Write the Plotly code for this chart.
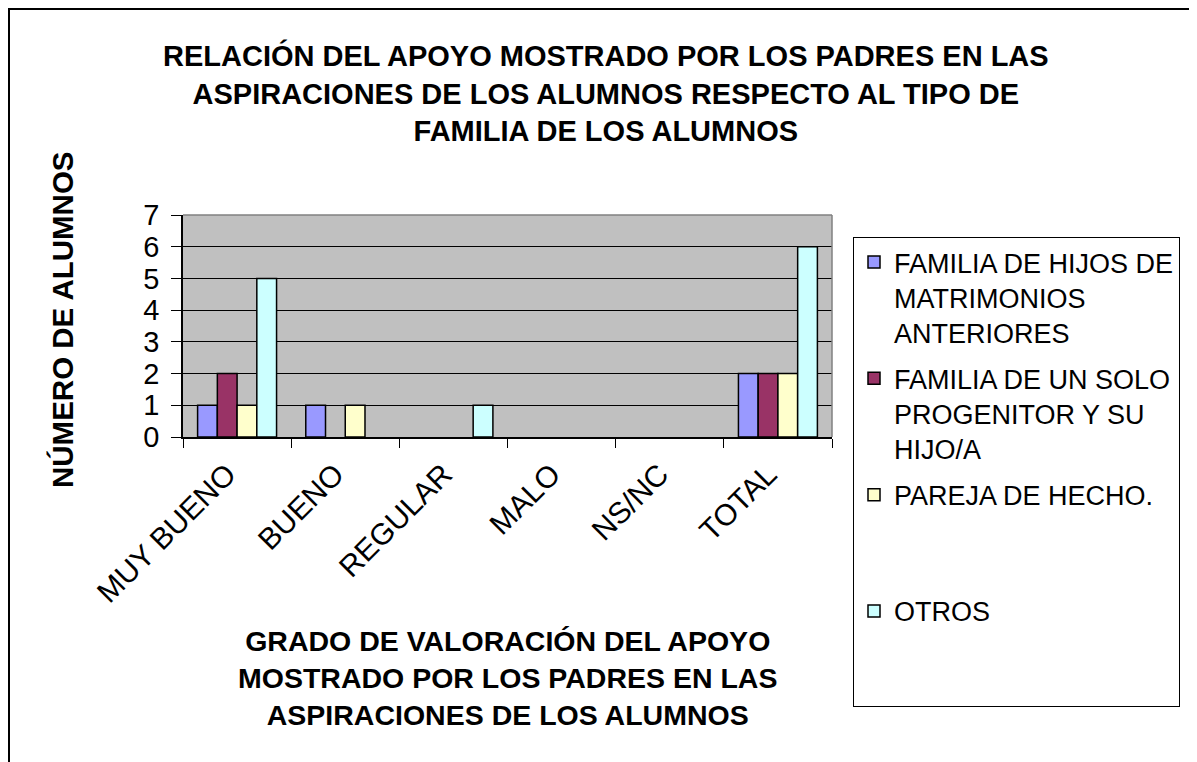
import plotly.graph_objects as go

categories = ["MUY BUENO", "BUENO", "REGULAR", "MALO", "NS/NC", "TOTAL"]
series_names = [
    "FAMILIA DE HIJOS DE<br>MATRIMONIOS<br>ANTERIORES",
    "FAMILIA DE UN SOLO<br>PROGENITOR Y SU<br>HIJO/A",
    "PAREJA DE HECHO.<br> <br> ",
    "OTROS<br> <br> ",
]
hijos_matrimonios = [1, 1, 0, 0, 0, 2]
solo_progenitor = [2, 0, 0, 0, 0, 2]
pareja_hecho = [1, 1, 0, 0, 0, 2]
otros = [5, 0, 1, 0, 0, 6]
series_values = [hijos_matrimonios, solo_progenitor, pareja_hecho, otros]
colors = ["#9999FF", "#993366", "#FFFFCC", "#CCFFFF"]
y_ticks = [0, 1, 2, 3, 4, 5, 6, 7]

title_text = ("RELACIÓN DEL APOYO MOSTRADO POR LOS PADRES EN LAS<br>"
              "ASPIRACIONES DE LOS ALUMNOS RESPECTO AL TIPO DE<br>"
              "FAMILIA DE LOS ALUMNOS")
xtitle_text = ("GRADO DE VALORACIÓN DEL APOYO<br>"
               "MOSTRADO POR LOS PADRES EN LAS<br>"
               "ASPIRACIONES DE LOS ALUMNOS")
ytitle_text = "NÚMERO DE ALUMNOS"

FONT = "Liberation Sans, Arial, sans-serif"
W, H = 1197, 762
OFF = 8  # page body margin
L, R, T, B = 183 - OFF, 832 - OFF, 215 - OFF, 437 - OFF
pw, ph = R - L, B - T

def px(x):
    return (x - OFF - L) / pw

def py(y):
    return (B - (y - OFF)) / ph

fig = go.Figure()
for i, (name, vals, col) in enumerate(zip(series_names, series_values, colors)):
    fig.add_trace(go.Bar(
        x=categories, y=vals, name=name, legendgroup=f"g{i}",
        marker=dict(color=col,
                    line=dict(color="black",
                              width=[1.5 if v else 0 for v in vals])),
    ))

fig.update_layout(
    width=W, height=H,
    margin=dict(l=L, r=W - R, t=T, b=H - B, pad=0),
    paper_bgcolor="white",
    plot_bgcolor="#C0C0C0",
    barmode="group", bargap=0.27, bargroupgap=0,
    font=dict(family=FONT, color="black"),
    showlegend=True,
    legend=dict(
        x=px(853), y=py(237), xanchor="left", yanchor="top",
        bordercolor="black", borderwidth=1, bgcolor="white",
        font=dict(size=27, family=FONT, color="black"),
        valign="top", traceorder="grouped", tracegroupgap=8,
        entrywidth=302, entrywidthmode="pixels",
        maxheight=700,
    ),
    xaxis=dict(
        type="category", tickson="boundaries", ticks="outside", ticklen=9,
        tickcolor="black", showline=True, linecolor="black", linewidth=1.5,
        tickangle=-45, tickfont=dict(size=30, family=FONT, color="black"),
        ticklabelshift=-10, ticklabelstandoff=6,
        showgrid=False,
    ),
    yaxis=dict(
        range=[0, 7], tickvals=y_ticks, ticks="outside", ticklen=10,
        tickcolor="black", showline=True, linecolor="black", linewidth=1.5,
        showgrid=True, gridcolor="black", gridwidth=1,
        tickfont=dict(size=29, family=FONT, color="black"),
        ticklabelstandoff=6,
        zeroline=False,
    ),
)

fig.add_annotation(text=title_text, xref="paper", yref="paper",
                   x=px(606), y=py(93), xanchor="center", yanchor="middle",
                   showarrow=False, font=dict(size=29, family=FONT, color="black"))
fig.add_annotation(text=xtitle_text, xref="paper", yref="paper",
                   x=px(507), y=py(678), xanchor="center", yanchor="middle",
                   showarrow=False, font=dict(size=28.5, family=FONT, color="black"))
fig.add_annotation(text=ytitle_text, xref="paper", yref="paper",
                   x=px(62), y=py(320), xanchor="center", yanchor="middle",
                   textangle=-90, showarrow=False,
                   font=dict(size=29.5, family=FONT, color="black"))

for a in fig.layout.annotations:
    a.text = "<b>" + a.text + "</b>"

# plot area top/right gray border
fig.add_shape(type="line", xref="paper", yref="paper", x0=0, x1=1, y0=1, y1=1,
              line=dict(color="#808080", width=1.5))
fig.add_shape(type="line", xref="paper", yref="paper", x0=1, x1=1, y0=0, y1=1,
              line=dict(color="#808080", width=1.5))
# outer chart border
fig.add_shape(type="rect", xref="paper", yref="paper",
              x0=px(9), x1=px(1193), y0=py(790), y1=py(9),
              line=dict(color="black", width=2), fillcolor="rgba(0,0,0,0)")

fig.write_html("out.html")
